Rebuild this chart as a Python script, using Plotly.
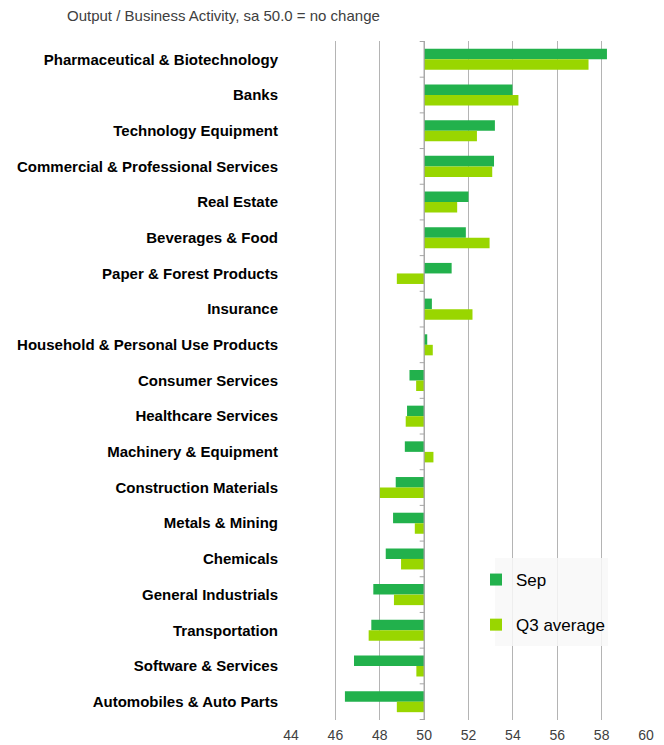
import plotly.graph_objects as go

categories = [
    "Pharmaceutical & Biotechnology", "Banks", "Technology Equipment",
    "Commercial & Professional Services", "Real Estate", "Beverages & Food",
    "Paper & Forest Products", "Insurance", "Household & Personal Use Products",
    "Consumer Services", "Healthcare Services", "Machinery & Equipment",
    "Construction Materials", "Metals & Mining", "Chemicals",
    "General Industrials", "Transportation", "Software & Services",
    "Automobiles & Auto Parts",
]
sep = [58.24, 53.98, 53.19, 53.15, 52.0, 51.88, 51.24, 50.35, 50.14, 49.34,
       49.23, 49.13, 48.72, 48.60, 48.27, 47.71, 47.62, 46.84, 46.43]
q3_avg = [57.41, 54.25, 52.38, 53.07, 51.49, 52.95, 48.77, 52.18, 50.39, 49.64,
          49.17, 50.42, 48.01, 49.58, 48.96, 48.64, 47.50, 49.65, 48.77]
x_ticks = [44, 46, 48, 50, 52, 54, 56, 58, 60]
baseline = 50.0

SEP_COLOR = "#22b14c"
Q3_COLOR = "#99d600"
W, H = 664, 745

fig = go.Figure()
fig.add_trace(go.Bar(
    y=categories, x=[v - baseline for v in sep], base=baseline,
    orientation="h", name="Sep", marker=dict(color=SEP_COLOR, line=dict(width=0)),
    legendgroup="a",
))
fig.add_trace(go.Bar(
    y=categories, x=[v - baseline for v in q3_avg], base=baseline,
    orientation="h", name="Q3 average", marker=dict(color=Q3_COLOR, line=dict(width=0)),
    legendgroup="b",
))

# vertical axis line at 50
fig.add_shape(type="line", xref="x", yref="paper", x0=baseline, x1=baseline,
              y0=0, y1=1, line=dict(color="#a6a6a6", width=1.2), layer="above")
# small tick marks at category boundaries
for i in range(len(categories) + 1):
    fig.add_shape(type="line", xref="x", yref="y", x0=baseline - 0.2, x1=baseline,
                  y0=i - 0.5, y1=i - 0.5, line=dict(color="#a6a6a6", width=1))

# legend background box (semi-transparent)
pl, pr, pt, pb = 291, 18, 41, 25
pw, ph = W - pl - pr, H - pt - pb
fig.add_shape(type="rect", xref="paper", yref="paper",
              x0=(495 - pl) / pw, x1=(608 - pl) / pw,
              y0=1 - (646 - pt) / ph, y1=1 - (558 - pt) / ph,
              fillcolor="rgba(248,248,248,0.85)", line=dict(width=0), layer="above")

fig.update_layout(
    width=W, height=H,
    margin=dict(l=pl, r=pr, t=pt, b=pb, autoexpand=False),
    paper_bgcolor="white", plot_bgcolor="white",
    barmode="group", bargap=0.41, bargroupgap=0,
    font=dict(family="Liberation Sans, Arial, sans-serif", color="#000000"),
    title=dict(text="Output / Business Activity, sa 50.0 = no change",
               x=67 / W, xanchor="left", y=1 - 16 / H, yanchor="middle",
               font=dict(size=15, color="#404040")),
    xaxis=dict(range=[44, 60], tickvals=x_ticks, ticktext=[str(t) for t in x_ticks],
               showgrid=True, gridcolor="#b4b4b4", gridwidth=1.3,
               zeroline=False, showline=False, ticks="", ticklabelstandoff=5,
               tickfont=dict(size=14, color="#404040"), automargin=False),
    yaxis=dict(categoryorder="array", categoryarray=categories,
               autorange="reversed", showgrid=False, zeroline=False,
               ticks="", ticklabelstandoff=12,
               tickfont=dict(size=15, color="#000000", weight="bold"),
               automargin=False),
    legend=dict(xref="container", x=476 / W, xanchor="left",
                yref="container", y=1 - 562 / H, yanchor="top",
                bgcolor="rgba(0,0,0,0)", font=dict(size=17, color="#000000"),
                traceorder="grouped", tracegroupgap=20, itemwidth=30),
    showlegend=True,
)

fig.write_html("out.html")
